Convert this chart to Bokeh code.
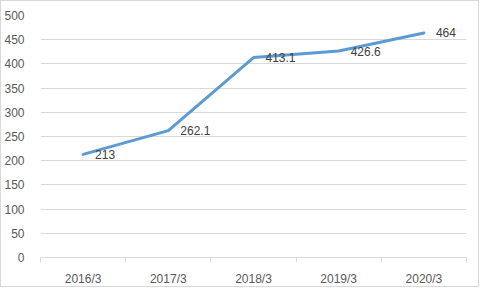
from bokeh.plotting import figure
from bokeh.models import ColumnDataSource, FixedTicker, Range1d
from bokeh.core.properties import value
from bokeh.embed import file_html
from bokeh.resources import INLINE

categories = ["2016/3", "2017/3", "2018/3", "2019/3", "2020/3"]
values = [213, 262.1, 413.1, 426.6, 464]
labels = ["213", "262.1", "413.1", "426.6", "464"]
y_ticks = [0, 50, 100, 150, 200, 250, 300, 350, 400, 450, 500]

xs = list(range(1, len(categories) + 1))
src = ColumnDataSource(dict(x=xs, y=values, lab=labels))

FONT = "Liberation Sans"
FS = "12px"

p = figure(width=479, height=287, output_backend="svg", toolbar_location=None,
           x_range=Range1d(0.5, len(categories) + 0.5), y_range=Range1d(0, 500),
           min_border_left=37, min_border_right=14, min_border_top=14, min_border_bottom=31)
p.styles = {"border": "1px solid #D9D9D9"}
p.outline_line_color = None
p.background_fill_color = "white"
p.border_fill_color = "white"

p.line("x", "y", source=src, line_color="#5B9BD5", line_width=3, line_join="round", line_cap="round")
p.text("x", "y", text="lab", source=src, x_offset=12, text_baseline="middle", text_align="left",
       text_font=value(FONT), text_font_size=FS, text_color="#404040")

# x axis
p.xaxis.ticker = FixedTicker(ticks=xs, minor_ticks=[i + 0.5 for i in range(0, len(categories) + 1)])
p.xaxis.major_label_overrides = {i + 1: c for i, c in enumerate(categories)}
p.xaxis.major_tick_line_color = None
p.xaxis.minor_tick_line_color = "#D9D9D9"
p.xaxis.minor_tick_in = 0
p.xaxis.minor_tick_out = 5
p.xaxis.axis_line_color = "#D9D9D9"
p.xaxis.major_label_text_font = FONT
p.xaxis.major_label_text_font_size = FS
p.xaxis.major_label_text_color = "#595959"
p.xaxis.major_label_standoff = 8

# y axis
p.yaxis.ticker = FixedTicker(ticks=y_ticks, minor_ticks=[])
p.yaxis.axis_line_color = None
p.yaxis.major_tick_line_color = None
p.yaxis.minor_tick_line_color = None
p.yaxis.major_label_text_font = FONT
p.yaxis.major_label_text_font_size = FS
p.yaxis.major_label_text_color = "#595959"
p.yaxis.major_label_standoff = 10

p.xgrid.grid_line_color = None
p.ygrid.grid_line_color = "#D9D9D9"
p.ygrid.ticker = FixedTicker(ticks=y_ticks[1:])

open("out.html", "w").write(file_html(p, INLINE))
